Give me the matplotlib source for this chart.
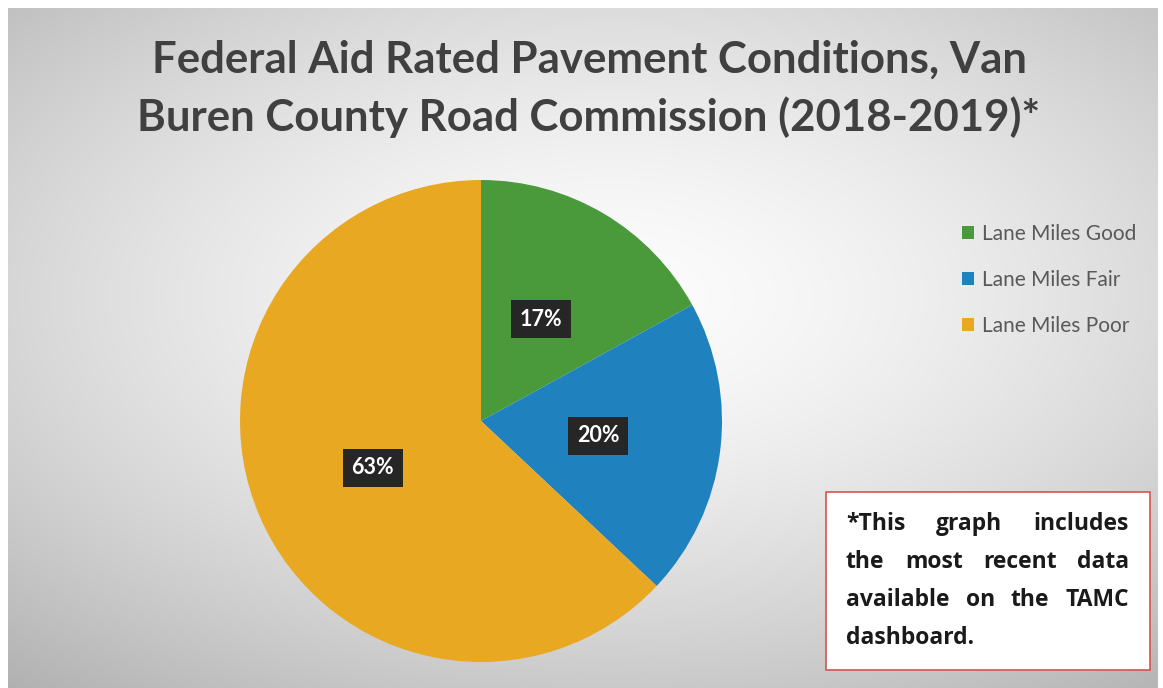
import numpy as np
import matplotlib
matplotlib.use("Agg")
from matplotlib import pyplot as plt
from matplotlib.patches import Rectangle

W, H = 1163, 688

categories = ["Lane Miles Good", "Lane Miles Fair", "Lane Miles Poor"]
shares = [17, 20, 63]
colors = ["#4a9a3c", "#1f82bf", "#e9a822"]
title = "Federal Aid Rated Pavement Conditions, Van\nBuren County Road Commission (2018-2019)*"
note_lines = ["*This graph includes", "the most recent data", "available on the TAMC", "dashboard."]

fig = plt.figure(figsize=(W / 100, H / 100), dpi=100)
fig.patch.set_facecolor("white")
ax = fig.add_axes([0, 0, 1, 1])
ax.set_xlim(0, W)
ax.set_ylim(0, H)
ax.set_aspect("equal")
ax.axis("off")

# radial grey background
gx, gy = np.meshgrid(np.linspace(-1, 1, 400), np.linspace(-1, 1, 300))
r = np.sqrt((gx - 0.05) ** 2 + ((gy + 0.15) * 1.1) ** 2)
shade = np.clip(0.99 - 0.14 * r ** 1.5, 0, 1)
ax.imshow(np.dstack([shade] * 3), extent=[8, 1158, 0, 680], origin="upper",
          aspect="auto", zorder=0, interpolation="bilinear")

wedges, texts, autotexts = ax.pie(
    shares, colors=colors, startangle=90, counterclock=False,
    center=(481, H - 421), radius=241, autopct=lambda p: f"{p:.0f}%",
    pctdistance=0.49, frame=True,
    textprops=dict(color="white", fontsize=15.5, fontweight="bold", family="Lato"))
for t in autotexts:
    t.set_bbox(dict(boxstyle="square,pad=0.4", facecolor="#262626", edgecolor="none"))
ax.set_xlim(0, W)
ax.set_ylim(0, H)
ax.axis("off")

ax.text(589, H - 89, title, ha="center", va="center", fontsize=31.5, fontweight="bold",
        color="#404040", family="Lato", linespacing=1.5)

ax.legend(wedges, categories, loc="upper left", bbox_to_anchor=(943 / W, 1 - 205 / H),
          frameon=False, handlelength=0.6, handleheight=0.6,
          handletextpad=0.35, labelspacing=1.25, labelcolor="#595959",
          prop=dict(family="Lato", size=15))

ax.add_patch(Rectangle((826, H - 670), 324, 178, facecolor="white",
                       edgecolor="#d9534f", linewidth=1.2, zorder=3))

# justified note text
fig.canvas.draw()
renderer = fig.canvas.get_renderer()
left, right = 846, 1129
y0 = H - 524
for i, line in enumerate(note_lines):
    y = y0 - i * 38
    words = line.split()
    if i == len(note_lines) - 1:
        ax.text(left, y, line, ha="left", va="center", fontsize=16.5, fontweight="bold",
                color="#1a1a1a", family="Open Sans", zorder=4)
        continue
    arts = [ax.text(0, y, w, ha="left", va="center", fontsize=16.5, fontweight="bold",
                    color="#1a1a1a", family="Open Sans", zorder=4) for w in words]
    widths = [a.get_window_extent(renderer).width for a in arts]
    gap = (right - left - sum(widths)) / (len(words) - 1)
    x = left
    for a, w in zip(arts, widths):
        a.set_x(x)
        x += w + gap

fig.savefig("out.png", dpi=100)
